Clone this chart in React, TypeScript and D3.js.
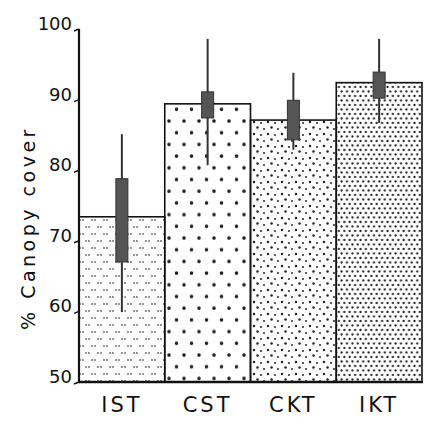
import React from 'react';
import * as d3 from 'd3';

// Chart values
const categories = ['IST', 'CST', 'CKT', 'IKT'];
const means = [73.4, 89.4, 87.1, 92.4];
const boxHigh = [78.8, 91.1, 89.9, 93.9];
const boxLow = [67.0, 87.4, 84.3, 90.2];
const whiskerHigh = [85.1, 98.6, 93.8, 98.6];
const whiskerLow = [59.9, 80.7, 82.9, 86.7];
const yTicks = [50, 60, 70, 80, 90, 100];

const W = 430;
const H = 427;
const plot = { left: 79, right: 422, top: 29, bottom: 382 };
const font = '"DejaVu Sans", sans-serif';

export default function App() {
  const y = d3.scaleLinear().domain([50, 100]).range([plot.bottom, plot.top]);
  const x = d3.scaleBand().domain(categories).range([plot.left, plot.right]).padding(0);
  const bw = x.bandwidth();
  const boxW = 12;

  const patternIds = ['pIST', 'pCST', 'pCKT', 'pIKT'];

  return (
    <svg width={W} height={H} style={{ position: 'absolute', left: 0, top: 0, background: '#fff' }}>
      <defs>
        {/* sparse paired dots */}
        <pattern id="pIST" width={12} height={14} patternUnits="userSpaceOnUse">
          <circle cx={2} cy={3} r={0.9} fill="#666" />
          <circle cx={5} cy={3} r={0.9} fill="#666" />
          <circle cx={8} cy={10} r={0.9} fill="#666" />
          <circle cx={11} cy={10} r={0.9} fill="#666" />
        </pattern>
        {/* large widely spaced dots */}
        <pattern id="pCST" width={15} height={23.4} patternUnits="userSpaceOnUse">
          <circle cx={4} cy={4} r={1.8} fill="#222" />
          <circle cx={11.5} cy={15.7} r={1.8} fill="#222" />
        </pattern>
        {/* medium irregular dots */}
        <pattern id="pCKT" width={14} height={12} patternUnits="userSpaceOnUse">
          <circle cx={2} cy={2} r={1.25} fill="#222" />
          <circle cx={9} cy={3} r={1.05} fill="#333" />
          <circle cx={5.5} cy={7.5} r={1.25} fill="#222" />
          <circle cx={12} cy={9} r={1.05} fill="#333" />
        </pattern>
        {/* dense dots */}
        <pattern id="pIKT" width={5.4} height={9} patternUnits="userSpaceOnUse">
          <circle cx={1.4} cy={1.5} r={1.15} fill="#222" />
          <circle cx={4.1} cy={6} r={1.15} fill="#222" />
        </pattern>
      </defs>

      {/* bars */}
      {categories.map((c, i) => (
        <rect
          key={c}
          x={x(c)}
          y={y(means[i])}
          width={bw}
          height={plot.bottom - y(means[i])}
          fill={`url(#${patternIds[i]})`}
          stroke="#111"
          strokeWidth={1.6}
        />
      ))}

      {/* error bars */}
      {categories.map((c, i) => {
        const cx = (x(c) as number) + bw / 2;
        return (
          <g key={c + 'err'}>
            <line x1={cx} x2={cx} y1={y(whiskerHigh[i])} y2={y(whiskerLow[i])} stroke="#333" strokeWidth={2} />
            <rect
              x={cx - boxW / 2}
              y={y(boxHigh[i])}
              width={boxW}
              height={y(boxLow[i]) - y(boxHigh[i])}
              fill="#555"
              stroke="#333"
              strokeWidth={1}
            />
          </g>
        );
      })}

      {/* axes */}
      <line x1={plot.left} x2={plot.left} y1={plot.top} y2={plot.bottom} stroke="#111" strokeWidth={2.2} />
      <line x1={plot.left - 1} x2={plot.right + 1} y1={plot.bottom} y2={plot.bottom} stroke="#111" strokeWidth={2.6} />

      {yTicks.map((t) => (
        <g key={t}>
          <line x1={plot.left - 5} x2={plot.left} y1={y(t) + 2} y2={y(t)} stroke="#111" strokeWidth={1.5} />
          <text x={72} y={y(t) + 1} textAnchor="end" fontFamily={font} fontSize={18} fill="#111">
            {t}
          </text>
        </g>
      ))}

      {categories.map((c) => (
        <text
          key={c + 'lab'}
          x={(x(c) as number) + bw / 2}
          y={412}
          textAnchor="middle"
          fontFamily={font}
          fontSize={21}
          letterSpacing={3}
          fill="#111"
        >
          {c}
        </text>
      ))}

      <text
        transform={`translate(35,228) rotate(-90)`}
        textAnchor="middle"
        fontFamily={font}
        fontSize={19}
        letterSpacing={3.5}
        fill="#111"
      >
        % Canopy cover
      </text>
    </svg>
  );
}
